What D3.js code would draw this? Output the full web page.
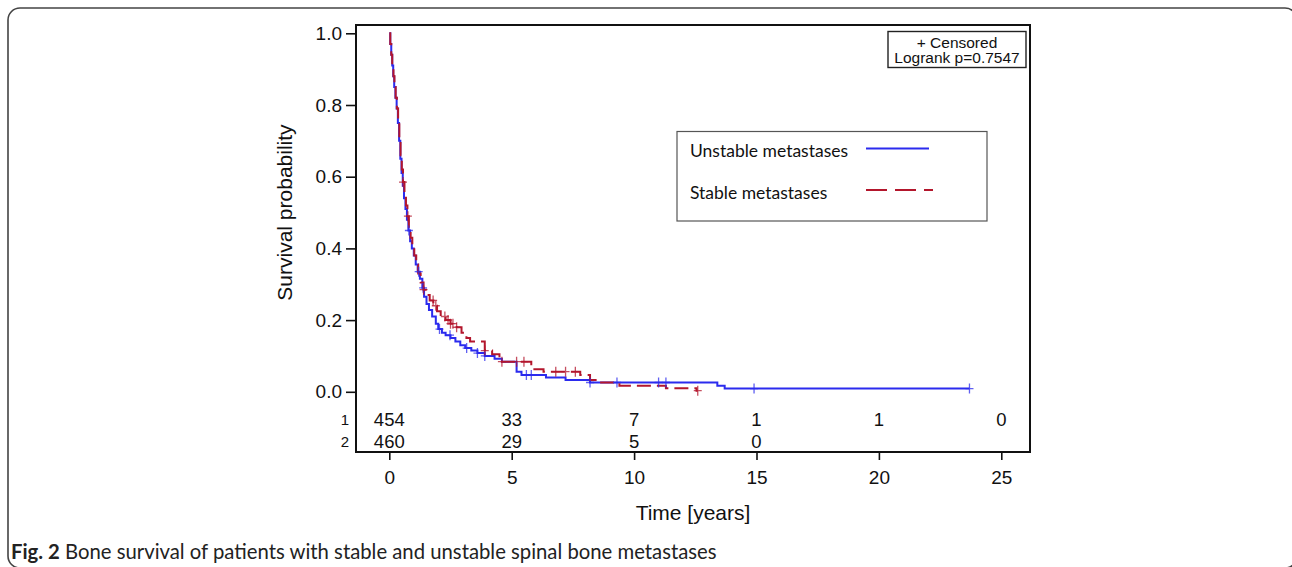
<!DOCTYPE html>
<html>
<head>
<meta charset="utf-8">
<script src="https://cdn.jsdelivr.net/npm/d3@7"></script>
<style>
  body { margin: 0; background: #fff; }
  svg { display: block; }
</style>
</head>
<body>
<div id="chart"></div>
<script>
// Kaplan-Meier step points [years, survival]
const unstableSteps = [
    [0, 1.0], [0.04, 0.97], [0.08, 0.94], [0.12, 0.91], [0.16, 0.88], [0.2, 0.85],
    [0.25, 0.82], [0.3, 0.79], [0.35, 0.75], [0.4, 0.70], [0.45, 0.65], [0.5, 0.61],
    [0.55, 0.575], [0.6, 0.54], [0.66, 0.51], [0.72, 0.48], [0.78, 0.45], [0.85, 0.42],
    [0.92, 0.40], [1.0, 0.38], [1.08, 0.355], [1.16, 0.335], [1.25, 0.315], [1.35, 0.29],
    [1.42, 0.265], [1.52, 0.245], [1.62, 0.228], [1.75, 0.21], [1.9, 0.19], [2.0, 0.175],
    [2.15, 0.165], [2.3, 0.158], [2.5, 0.15], [2.7, 0.14], [2.9, 0.13], [3.1, 0.122],
    [3.35, 0.115], [3.6, 0.108], [3.9, 0.10], [4.3, 0.092], [4.6, 0.084], [5.2, 0.056],
    [5.4, 0.047], [6.4, 0.04], [7.2, 0.033], [8.2, 0.026], [13.4, 0.017], [13.7, 0.009],
    [23.7, 0.009]
];
const stableSteps = [
    [0, 1.0], [0.04, 0.97], [0.08, 0.94], [0.12, 0.91], [0.17, 0.88], [0.21, 0.85],
    [0.26, 0.82], [0.31, 0.79], [0.36, 0.75], [0.41, 0.70], [0.46, 0.66], [0.51, 0.62],
    [0.56, 0.585], [0.62, 0.55], [0.68, 0.52], [0.74, 0.49], [0.8, 0.46], [0.87, 0.43],
    [0.94, 0.405], [1.02, 0.38], [1.1, 0.355], [1.18, 0.33], [1.28, 0.305], [1.4, 0.285],
    [1.5, 0.27], [1.65, 0.255], [1.8, 0.24], [1.95, 0.225], [2.1, 0.21], [2.3, 0.2],
    [2.5, 0.19], [2.75, 0.18], [2.95, 0.165], [3.15, 0.15], [3.3, 0.14], [3.9, 0.115],
    [4.2, 0.105], [4.5, 0.084], [5.8, 0.063], [6.3, 0.056], [7.8, 0.047], [8.2, 0.033],
    [8.5, 0.026], [9.4, 0.017], [11.3, 0.01], [12.55, 0.003], [12.6, 0.003]
];
const unstableCensored = [0.8, 1.2, 1.38, 2.05, 2.48, 3.16, 3.6, 3.9, 5.6, 5.8, 8.2, 9.3, 11.0, 11.3, 14.9, 23.7];
const stableCensored = [0.56, 0.76, 1.4, 1.79, 1.9, 2.27, 2.4, 2.5, 2.6, 2.75, 3.9, 4.6, 5.2, 5.5, 6.8, 7.2, 7.6, 12.6];

// numbers at risk
const riskTimes = [0, 5, 10, 15, 20, 25];
const riskUnstable = [454, 33, 7, 1, 1, 0];
const riskStable = [460, 29, 5, 0];

const yTicks = [0, 0.2, 0.4, 0.6, 0.8, 1.0];
const xTicks = [0, 5, 10, 15, 20, 25];
const legendLabels = ["Unstable metastases", "Stable metastases"];
const infoLines = ["+ Censored", "Logrank p=0.7547"];

const W = 1292, H = 567;
const plot = { left: 356, right: 1030, top: 25, bottom: 452 };
const blue = "#2b2bee", red = "#b3162c";
const arial = "'Liberation Sans', Arial, sans-serif";

const svg = d3.select("#chart").append("svg")
    .attr("width", W)
    .attr("height", H);

// outer rounded panel
svg.append("rect")
    .attr("x", 8).attr("y", 8)
    .attr("width", 1289).attr("height", 560)
    .attr("rx", 12)
    .attr("fill", "none")
    .attr("stroke", "#444")
    .attr("stroke-width", 1.6);

const x = d3.scaleLinear().domain([0, 25]).range([389.3, 1001.3]);
const y = d3.scaleLinear().domain([0, 1]).range([391.8, 33.3]);

// plot frame
svg.append("rect")
    .attr("x", plot.left).attr("y", plot.top)
    .attr("width", plot.right - plot.left)
    .attr("height", plot.bottom - plot.top)
    .attr("fill", "none")
    .attr("stroke", "#111")
    .attr("stroke-width", 2);

// axes
const yAxis = svg.append("g")
    .attr("transform", `translate(${plot.left},0)`)
    .call(d3.axisLeft(y).tickValues(yTicks).tickFormat(d3.format(".1f")).tickSize(10).tickPadding(4));
const xAxis = svg.append("g")
    .attr("transform", `translate(0,${plot.bottom})`)
    .call(d3.axisBottom(x).tickValues(xTicks).tickSize(8).tickPadding(11));

[yAxis, xAxis].forEach(g => {
    g.select(".domain").remove();
    g.selectAll("line").attr("stroke", "#111").attr("stroke-width", 1.6);
    g.selectAll("text")
        .attr("fill", "#111")
        .style("font-family", arial)
        .style("font-size", "19px");
});

// axis titles
svg.append("text")
    .attr("transform", `translate(292,${(y(0) + y(1)) / 2}) rotate(-90)`)
    .attr("text-anchor", "middle")
    .style("font-family", arial)
    .style("font-size", "21px")
    .attr("fill", "#111")
    .text("Survival probability");

svg.append("text")
    .attr("x", (plot.left + plot.right) / 2)
    .attr("y", 520)
    .attr("text-anchor", "middle")
    .style("font-family", arial)
    .style("font-size", "21px")
    .attr("fill", "#111")
    .text("Time [years]");

// survival curves
const line = d3.line()
    .x(d => x(d[0]))
    .y(d => y(d[1]))
    .curve(d3.curveStepAfter);

svg.append("path")
    .datum(unstableSteps)
    .attr("d", line)
    .attr("fill", "none")
    .attr("stroke", blue)
    .attr("stroke-width", 2);

svg.append("path")
    .datum(stableSteps)
    .attr("d", line)
    .attr("fill", "none")
    .attr("stroke", red)
    .attr("stroke-width", 2)
    .attr("stroke-dasharray", "14 6");

// censor marks at the survival value in effect at each time
const bisect = d3.bisector(d => d[0]).right;
function survivalAt(steps, t) {
    const i = Math.max(0, bisect(steps, t) - 1);
    return steps[i][1];
}
function drawCensors(times, steps, color) {
    svg.append("g").selectAll("path")
        .data(times)
        .join("path")
        .attr("transform", t => `translate(${x(t)},${y(survivalAt(steps, t))})`)
        .attr("d", "M-4,0H4M0,-5V5")
        .attr("stroke", color)
        .attr("stroke-opacity", 0.75)
        .attr("stroke-width", 1.3)
        .attr("fill", "none");
}
drawCensors(unstableCensored, unstableSteps, blue);
drawCensors(stableCensored, stableSteps, red);

// numbers at risk
[[riskUnstable, 420, "1"], [riskStable, 442, "2"]].forEach(([vals, ry, lab]) => {
    svg.append("text")
        .attr("x", 349).attr("y", ry)
        .attr("dy", "0.35em")
        .attr("text-anchor", "end")
        .style("font-family", arial)
        .style("font-size", "15px")
        .attr("fill", "#111")
        .text(lab);
    svg.append("g").selectAll("text")
        .data(vals)
        .join("text")
        .attr("x", (d, i) => x(riskTimes[i]))
        .attr("y", ry)
        .attr("dy", "0.35em")
        .attr("text-anchor", "middle")
        .style("font-family", arial)
        .style("font-size", "18.5px")
        .attr("fill", "#111")
        .text(d => d);
});

// censored / logrank box
const info = svg.append("g");
info.append("rect")
    .attr("x", 888).attr("y", 31.5)
    .attr("width", 138).attr("height", 36)
    .attr("fill", "#fff")
    .attr("stroke", "#222")
    .attr("stroke-width", 1.4);
info.selectAll("text")
    .data(infoLines)
    .join("text")
    .attr("x", 957)
    .attr("y", (d, i) => 47.5 + i * 15.5)
    .attr("text-anchor", "middle")
    .style("font-family", arial)
    .style("font-size", "15.5px")
    .attr("fill", "#111")
    .text(d => d);

// legend
const legend = svg.append("g");
legend.append("rect")
    .attr("x", 677).attr("y", 131.5)
    .attr("width", 310).attr("height", 89.5)
    .attr("fill", "#fff")
    .attr("stroke", "#555")
    .attr("stroke-width", 1.2);
legend.selectAll("text")
    .data(legendLabels)
    .join("text")
    .attr("x", 690)
    .attr("y", (d, i) => 151 + i * 42)
    .attr("dy", "0.35em")
    .style("font-family", "Lato, 'Noto Sans', sans-serif")
    .style("font-size", "17.5px")
    .attr("fill", "#111")
    .text(d => d);
legend.append("line")
    .attr("x1", 866).attr("x2", 929)
    .attr("y1", 148.5).attr("y2", 148.5)
    .attr("stroke", blue).attr("stroke-width", 2);
legend.append("line")
    .attr("x1", 866).attr("x2", 933)
    .attr("y1", 190).attr("y2", 190)
    .attr("stroke", red).attr("stroke-width", 2)
    .attr("stroke-dasharray", "21 8");

// caption
const cap = svg.append("text")
    .attr("x", 11).attr("y", 559)
    .style("font-family", "Lato, 'Noto Sans', sans-serif")
    .style("font-size", "20.3px")
    .attr("fill", "#222");
cap.append("tspan").attr("font-weight", "bold").text("Fig. 2");
cap.append("tspan").text(" Bone survival of patients with stable and unstable spinal bone metastases");
</script>
</body>
</html>
